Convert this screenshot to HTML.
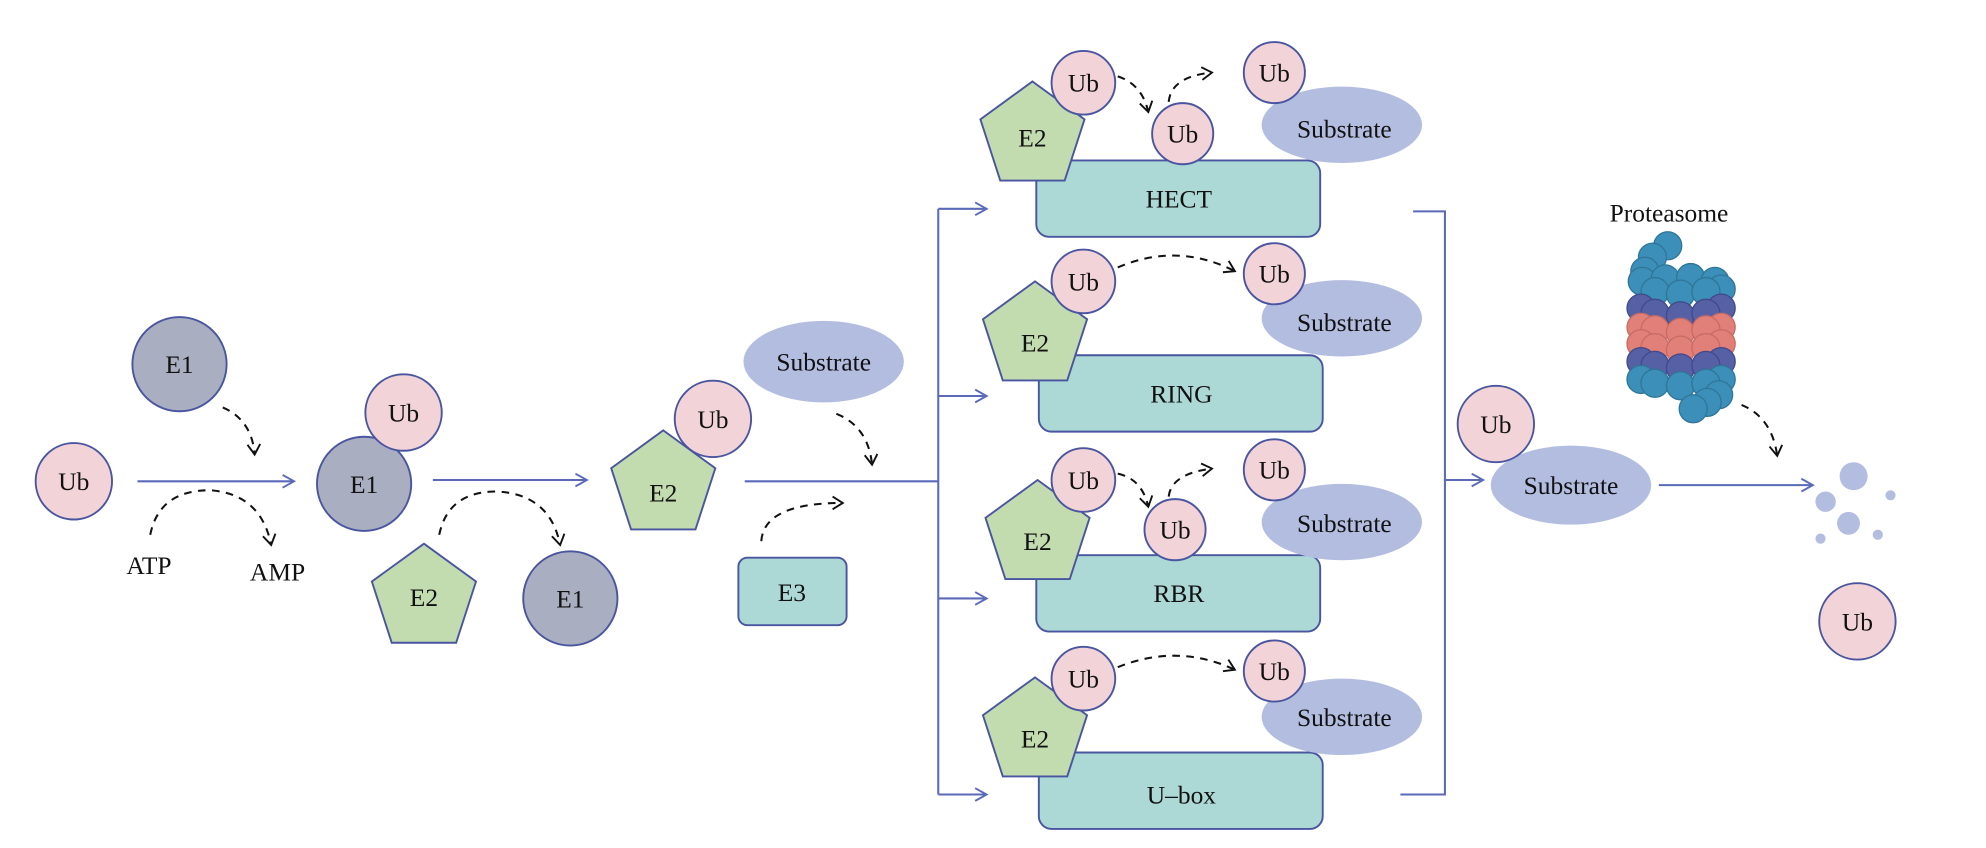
<!DOCTYPE html>
<html><head><meta charset="utf-8"><style>html,body{margin:0;padding:0;background:#fff}svg{display:block}</style></head><body>
<svg width="1986" height="848" viewBox="0 0 1560 666" preserveAspectRatio="none" xmlns="http://www.w3.org/2000/svg" font-family="'Liberation Serif', serif" font-size="20" text-anchor="middle">
<defs>
<polygon id="pent" points="0,-43 40.9,-13.3 25.3,34.8 -25.3,34.8 -40.9,-13.3" fill="#c2dcb0" stroke="#4a55a0" stroke-width="1.5"/>
<marker id="ar" markerWidth="12" markerHeight="12" refX="10" refY="6" orient="auto" markerUnits="userSpaceOnUse"><path d="M1,1 L10,6 L1,11" fill="none" stroke="#5a6ab8" stroke-width="1.5"/></marker>
<marker id="dk" markerWidth="12" markerHeight="12" refX="9" refY="6" orient="auto" markerUnits="userSpaceOnUse"><path d="M1,1 L9,6 L1,11" fill="none" stroke="#111" stroke-width="1.5"/></marker>
</defs>
<g fill="none" stroke="#5a6ab8" stroke-width="1.6">
<line x1="108" y1="378" x2="231" y2="378" marker-end="url(#ar)"/>
<line x1="340" y1="377" x2="461" y2="377" marker-end="url(#ar)"/>
<line x1="585" y1="378" x2="737" y2="378"/>
<line x1="737" y1="164" x2="737" y2="624"/>
<line x1="737" y1="164" x2="775" y2="164" marker-end="url(#ar)"/>
<line x1="737" y1="311" x2="775" y2="311" marker-end="url(#ar)"/>
<line x1="737" y1="470" x2="775" y2="470" marker-end="url(#ar)"/>
<line x1="737" y1="624" x2="775" y2="624" marker-end="url(#ar)"/>
<polyline points="1110,166 1135,166 1135,624 1100,624"/>
<line x1="1135" y1="377" x2="1165" y2="377" marker-end="url(#ar)"/>
<line x1="1303" y1="381" x2="1424" y2="381" marker-end="url(#ar)"/>
</g>
<g fill="none" stroke="#111" stroke-width="1.6" stroke-dasharray="6,5">
<path d="M175,320 Q198,330 200,357" marker-end="url(#dk)"/>
<path d="M118,420 Q125,385 165,385 Q205,388 213,428" marker-end="url(#dk)"/>
<path d="M345,420 Q352,386 390,386 Q432,388 440,428" marker-end="url(#dk)"/>
<path d="M657,325 Q682,335 685,365" marker-end="url(#dk)"/>
<path d="M598,425 Q600,395 662,395" marker-end="url(#dk)"/>
<path d="M878,60 Q897,66 902,88" marker-end="url(#dk)"/>
<path d="M918,80 Q920,60 952,57" marker-end="url(#dk)"/>
<path d="M878,210 Q925,190 970,213" marker-end="url(#dk)"/>
<path d="M878,372 Q897,376 902,398" marker-end="url(#dk)"/>
<path d="M918,390 Q920,372 952,368" marker-end="url(#dk)"/>
<path d="M878,524 Q925,505 970,526" marker-end="url(#dk)"/>
<path d="M1368,318 Q1392,328 1396,358" marker-end="url(#dk)"/>
</g>
<g stroke="#4a55a0" stroke-width="1.5">
<circle cx="141" cy="286" r="37" fill="#a9aec0"/>
<circle cx="58" cy="378" r="30" fill="#f2d4d8"/>
<circle cx="286" cy="380" r="37" fill="#a9aec0"/>
<circle cx="317" cy="324" r="30" fill="#f2d4d8"/>
<circle cx="448" cy="470" r="37" fill="#a9aec0"/>
<circle cx="560" cy="329" r="30" fill="#f2d4d8"/>
<rect x="580" y="438" width="85" height="53" rx="7" fill="#acd8d6"/>
<rect x="814" y="126" width="223" height="60" rx="10" fill="#acd8d6"/>
<rect x="816" y="279" width="223" height="60" rx="10" fill="#acd8d6"/>
<rect x="814" y="436" width="223" height="60" rx="10" fill="#acd8d6"/>
<rect x="816" y="591" width="223" height="60" rx="10" fill="#acd8d6"/>
</g>
<use href="#pent" x="333" y="470"/>
<use href="#pent" x="521" y="381"/>
<use href="#pent" x="811" y="107"/>
<use href="#pent" x="813" y="264"/>
<use href="#pent" x="815" y="420"/>
<use href="#pent" x="813" y="575"/>
<g fill="#b3bde0">
<ellipse cx="647" cy="284" rx="63" ry="32"/>
<ellipse cx="1054" cy="98" rx="63" ry="30"/>
<ellipse cx="1054" cy="250" rx="63" ry="30"/>
<ellipse cx="1054" cy="410" rx="63" ry="30"/>
<ellipse cx="1054" cy="563" rx="63" ry="30"/>
<ellipse cx="1234" cy="381" rx="63" ry="31"/>
<circle cx="1456" cy="374" r="11"/><circle cx="1434" cy="394" r="8"/><circle cx="1452" cy="411" r="9"/>
<circle cx="1485" cy="389" r="4"/><circle cx="1430" cy="423" r="4"/><circle cx="1475" cy="420" r="4"/>
</g>
<g stroke="#4a55a0" stroke-width="1.5" fill="#f2d4d8">
<circle cx="851" cy="65" r="25"/><circle cx="929" cy="105" r="24"/><circle cx="1001" cy="57" r="24"/>
<circle cx="851" cy="221" r="25"/><circle cx="1001" cy="215" r="24"/>
<circle cx="851" cy="377" r="25"/><circle cx="923" cy="416" r="24"/><circle cx="1001" cy="369" r="24"/>
<circle cx="851" cy="533" r="25"/><circle cx="1001" cy="527" r="24"/>
<circle cx="1175" cy="333" r="30"/>
<circle cx="1459" cy="488" r="30"/>
</g>
<g stroke-width="1">
<g fill="#3b8fb8" stroke="#2f7598">
<circle cx="1310" cy="193" r="11"/><circle cx="1298" cy="202" r="11"/><circle cx="1292" cy="213" r="11"/>
<circle cx="1290" cy="221" r="11"/><circle cx="1308" cy="219" r="11"/><circle cx="1328" cy="218" r="11"/><circle cx="1347" cy="221" r="11"/><circle cx="1352" cy="227" r="11"/>
<circle cx="1300" cy="229" r="11"/><circle cx="1320" cy="231" r="11"/><circle cx="1340" cy="229" r="11"/>
</g>
<g fill="#5660a4" stroke="#40488a">
<circle cx="1289" cy="242" r="11"/><circle cx="1352" cy="242" r="11"/><circle cx="1300" cy="246" r="11"/><circle cx="1320" cy="248" r="11"/><circle cx="1340" cy="246" r="11"/>
</g>
<g fill="#e08078" stroke="#c66a64">
<circle cx="1289" cy="257" r="11"/><circle cx="1352" cy="257" r="11"/><circle cx="1300" cy="259" r="11"/><circle cx="1320" cy="261" r="11"/><circle cx="1340" cy="259" r="11"/>
<circle cx="1289" cy="270" r="11"/><circle cx="1352" cy="270" r="11"/><circle cx="1300" cy="273" r="11"/><circle cx="1320" cy="275" r="11"/><circle cx="1340" cy="273" r="11"/>
</g>
<g fill="#5660a4" stroke="#40488a">
<circle cx="1289" cy="284" r="11"/><circle cx="1352" cy="284" r="11"/><circle cx="1300" cy="287" r="11"/><circle cx="1320" cy="289" r="11"/><circle cx="1340" cy="287" r="11"/>
</g>
<g fill="#3b8fb8" stroke="#2f7598">
<circle cx="1289" cy="298" r="11"/><circle cx="1352" cy="298" r="11"/><circle cx="1300" cy="301" r="11"/><circle cx="1320" cy="303" r="11"/><circle cx="1340" cy="301" r="11"/>
<circle cx="1350" cy="310" r="11"/><circle cx="1341" cy="316" r="11"/><circle cx="1330" cy="321" r="11"/>
</g>
</g>
<g fill="#111">
<text x="141" y="293">E1</text><text x="58" y="385">Ub</text>
<text x="117" y="451">ATP</text><text x="218" y="456">AMP</text>
<text x="286" y="387">E1</text><text x="317" y="331">Ub</text>
<text x="333" y="476">E2</text><text x="448" y="477">E1</text>
<text x="521" y="394">E2</text><text x="560" y="336">Ub</text>
<text x="647" y="291">Substrate</text><text x="622" y="472">E3</text>
<text x="811" y="115">E2</text><text x="851" y="72">Ub</text><text x="929" y="112">Ub</text><text x="1001" y="64">Ub</text>
<text x="1056" y="108">Substrate</text><text x="926" y="163">HECT</text>
<text x="813" y="276">E2</text><text x="851" y="228">Ub</text><text x="1001" y="222">Ub</text>
<text x="1056" y="260">Substrate</text><text x="928" y="316">RING</text>
<text x="815" y="432">E2</text><text x="851" y="384">Ub</text><text x="923" y="423">Ub</text><text x="1001" y="376">Ub</text>
<text x="1056" y="418">Substrate</text><text x="926" y="473">RBR</text>
<text x="813" y="587">E2</text><text x="851" y="540">Ub</text><text x="1001" y="534">Ub</text>
<text x="1056" y="570">Substrate</text><text x="928" y="631">U–box</text>
<text x="1175" y="340">Ub</text><text x="1234" y="388">Substrate</text>
<text x="1311" y="174">Proteasome</text>
<text x="1459" y="495">Ub</text>
</g>
</svg>
</body></html>
